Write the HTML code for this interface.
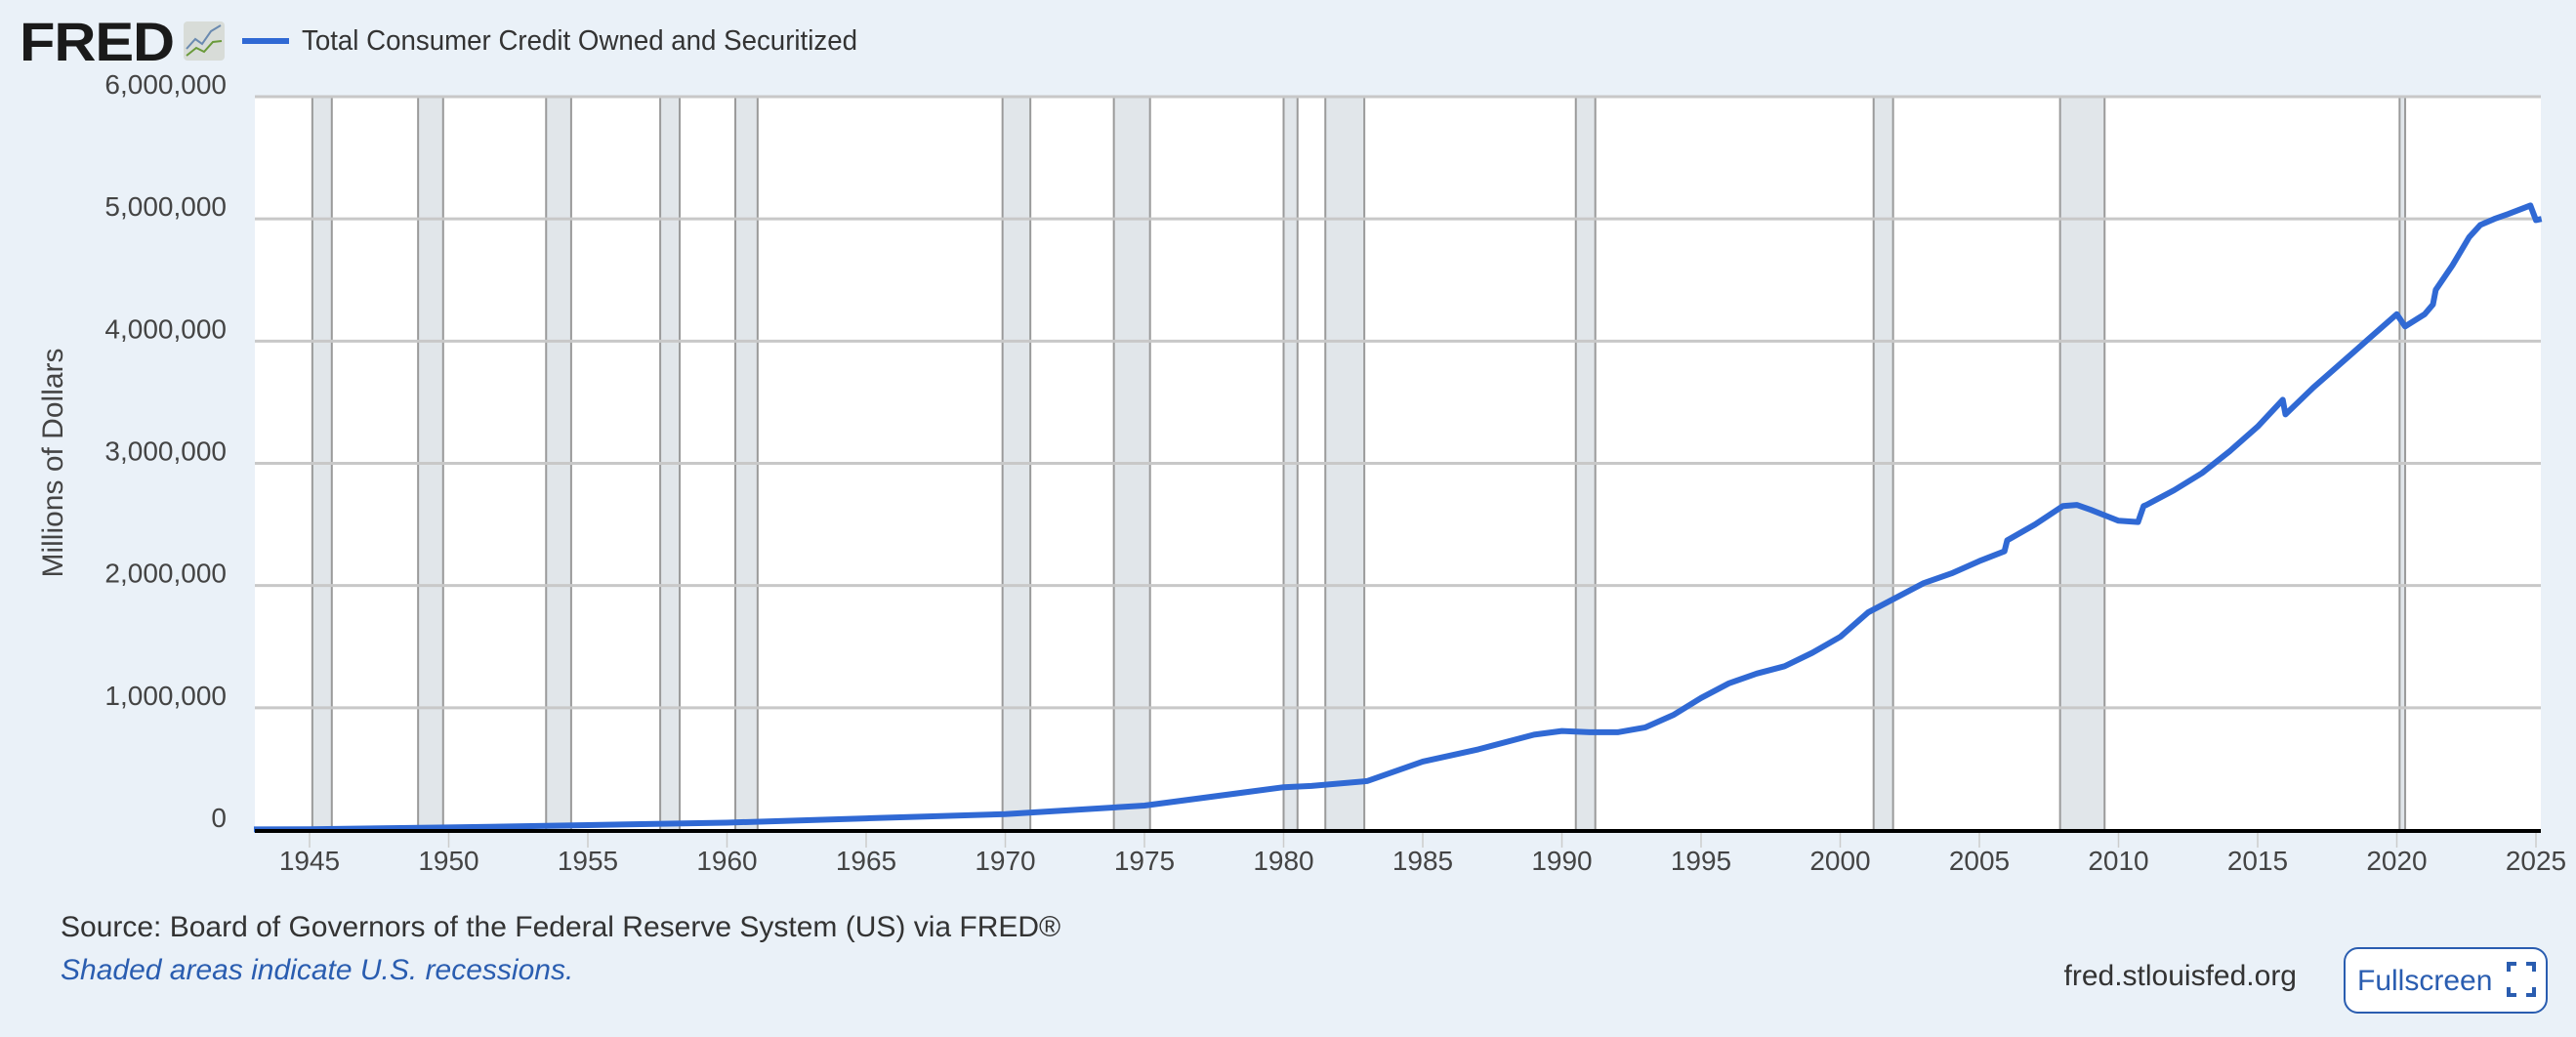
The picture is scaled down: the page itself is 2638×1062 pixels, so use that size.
<!DOCTYPE html>
<html><head><meta charset="utf-8"><style>
html,body{margin:0;padding:0;background:#eaf1f8;}
body{width:2638px;height:1062px;overflow:hidden;position:relative;font-family:"Liberation Sans",sans-serif;}
</style></head><body>
<svg id="chart" width="2638" height="1062" xmlns="http://www.w3.org/2000/svg" style="position:absolute;left:0;top:0">
<g>
<text x="20" y="62" font-family="Liberation Sans" font-weight="bold" font-size="56" fill="#1a1a1a" letter-spacing="-1" textLength="158" lengthAdjust="spacingAndGlyphs">FRED</text>
<rect x="188" y="22" width="42" height="40" rx="4" fill="#d8dcd8"/>
<polyline points="191,50 200,40 207,45 216,32 226,26" fill="none" stroke="#6a8ab0" stroke-width="2"/>
<polyline points="191,57 201,49 209,53 218,43 227,42" fill="none" stroke="#6a9a3a" stroke-width="2"/>
</g>
<line x1="248" y1="42" x2="296" y2="42" stroke="#3069d4" stroke-width="6"/>
<text x="309" y="51" font-size="29" fill="#333" textLength="569" lengthAdjust="spacingAndGlyphs">Total Consumer Credit Owned and Securitized</text>
<rect x="261" y="99" width="2341" height="751" fill="#fff"/>
<g id="rec"></g>
<g id="grid"></g>
<g id="ylab"></g>
<g id="xlab"></g>
<path id="series" fill="none" stroke="#3069d4" stroke-width="6" stroke-linejoin="round"/>
<line x1="261" y1="851" x2="2602" y2="851" stroke="#000" stroke-width="4"/>
<text transform="translate(64,474) rotate(-90)" text-anchor="middle" font-size="30" fill="#444">Millions of Dollars</text>
<text x="62" y="959" font-size="30" fill="#333">Source: Board of Governors of the Federal Reserve System (US) via FRED®</text>
<text x="62" y="1003" font-size="30" font-style="italic" fill="#2a5db0">Shaded areas indicate U.S. recessions.</text>
<text x="2352" y="1009" text-anchor="end" font-size="30" fill="#333">fred.stlouisfed.org</text>
<g>
<rect x="2401" y="971" width="207" height="66" rx="14" fill="#fff" stroke="#2a5db0" stroke-width="2"/>
<text x="2414" y="1014" font-size="30" fill="#2a5db0">Fullscreen</text>
<path d="M2569,995 v-8 h8 M2587,987 h8 v8 M2595,1011 v8 h-8 M2577,1019 h-8 v-8" fill="none" stroke="#2a5db0" stroke-width="4"/>
</g>
</svg>
<script>
const yearsX = [1943,1945,1950,1955,1960,1965,1970,1975,1980,1981,1983,1985,1987,1989,1990,1991,1992,1993,1994,1995,1996,1997,1998,1999,2000,2001,2002,2003,2004,2005,2005.9,2006,2007,2008,2008.5,2009,2010,2010.7,2010.9,2011,2012,2013,2014,2015,2015.9,2016,2017,2018,2019,2020,2020.3,2021,2021.3,2021.4,2022,2022.6,2023,2023.5,2024,2024.8,2025,2025.2];
const values = [5000,6000,21000,40000,60000,95000,130000,200000,350000,360000,400000,560000,660000,780000,810000,800000,800000,840000,940000,1080000,1200000,1280000,1340000,1450000,1580000,1780000,1900000,2020000,2100000,2200000,2280000,2370000,2500000,2650000,2660000,2620000,2530000,2520000,2650000,2660000,2780000,2920000,3100000,3300000,3520000,3400000,3620000,3820000,4020000,4220000,4120000,4220000,4300000,4420000,4620000,4850000,4950000,5000000,5040000,5110000,4990000,5000000];
const recStart = [1945.1,1948.9,1953.5,1957.6,1960.3,1969.9,1973.9,1980.0,1981.5,1990.5,2001.2,2007.9,2020.1];
const recEnd = [1945.8,1949.8,1954.4,1958.3,1961.1,1970.9,1975.2,1980.5,1982.9,1991.2,2001.9,2009.5,2020.3];
const yTicks = [0,1000000,2000000,3000000,4000000,5000000,6000000];
const yTickLabels = ["0","1,000,000","2,000,000","3,000,000","4,000,000","5,000,000","6,000,000"];
const xTicks = [1945,1950,1955,1960,1965,1970,1975,1980,1985,1990,1995,2000,2005,2010,2015,2020,2025];

const NS="http://www.w3.org/2000/svg";
const X = y => 317 + (y-1945)*28.5;
const Y = v => 850 - v/6000000*751;
function mk(tag, attrs, parent){const e=document.createElementNS(NS,tag);for(const k in attrs)e.setAttribute(k,attrs[k]);parent.appendChild(e);return e;}
const rec=document.getElementById('rec');
recStart.forEach((s,i)=>{
  const r=mk('rect',{x:X(s),y:99,width:X(recEnd[i])-X(s),height:751,fill:'#e1e6ea'},rec);
  
  
  [s,recEnd[i]].forEach(t=>{const l=mk('line',{x1:X(t),x2:X(t),y1:99,y2:850,stroke:'#9a9a9a','stroke-width':2},rec);
    
    });
});
const grid=document.getElementById('grid'), ylab=document.getElementById('ylab'), xlab=document.getElementById('xlab');
yTicks.forEach((v,i)=>{
  if(v>0){const g=mk('line',{x1:261,x2:2602,y1:Y(v),y2:Y(v),stroke:'#c8c8c8','stroke-width':3},grid);
    
    }
  const t=mk('text',{x:232,y:Y(v)-3,'text-anchor':'end','font-size':28,fill:'#444'},ylab);
  t.textContent=yTickLabels[i];
  
  
});
xTicks.forEach(yr=>{
  const l=mk('line',{x1:X(yr),x2:X(yr),y1:852,y2:868,stroke:'#ccc','stroke-width':1.5},xlab);
  
  
  const t=mk('text',{x:X(yr),y:891,'text-anchor':'middle','font-size':28,fill:'#444'},xlab);
  t.textContent=String(yr);
  
  
});
document.getElementById('series').setAttribute('d', yearsX.map((y,i)=>(i?'L':'M')+X(y).toFixed(1)+','+Y(values[i]).toFixed(1)).join(' '));
</script>
</body></html>
